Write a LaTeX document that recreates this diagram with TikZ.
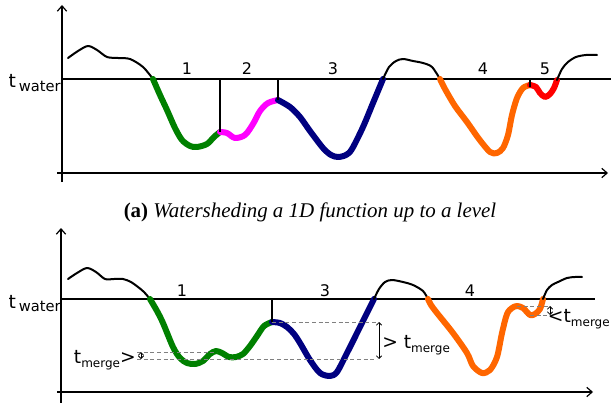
\documentclass[tikz,border=0pt]{standalone}
\usepackage{fontspec}
\setmainfont{Liberation Serif}
\newfontfamily\labfont{DejaVu Sans}
\usetikzlibrary{arrows.meta}
\definecolor{basingreen}{HTML}{008000}
\definecolor{basinpink}{HTML}{FF00FF}
\definecolor{basinblue}{HTML}{000080}
\definecolor{basinorange}{HTML}{FF6600}
\definecolor{basinred}{HTML}{FF0000}
\newcommand{\subw}[1]{\raisebox{-2.5pt}{\fontsize{11}{11}\selectfont #1}}
\newcommand{\subm}[1]{\raisebox{-3pt}{\fontsize{9}{9}\selectfont #1}}

\begin{document}
\begin{tikzpicture}[x=0.75pt, y=-0.75pt,
  axis/.style  = {line width=0.9pt, -{Straight Barb[length=4pt,width=7pt]}},
  level/.style = {line width=1.2pt},
  ridge/.style = {line width=1.2pt},
  land/.style  = {line width=1.5pt, line cap=round, line join=round},
  basin/.style = {line width=4.5pt, line cap=round, line join=round},
  guide/.style = {densely dashed, gray, line width=0.5pt},
  gap/.style   = {line width=0.6pt, {Straight Barb[length=2pt,width=4pt]}-{Straight Barb[length=2pt,width=4pt]}},
  num/.style   = {font=\labfont\fontsize{12}{12}\selectfont, anchor=base, inner sep=0pt},
  tlab/.style  = {font=\labfont\fontsize{14}{14}\selectfont, inner sep=0pt},
]
\useasboundingbox (0,0) rectangle (611,403);
%%--- (a) Watershed up to a level ---
\draw[axis] (62,182) -- (62,5);
\draw[axis] (57,173) -- (608,173);
\coordinate (wa) at (62,79);
\draw[level] (wa) -- (611,79);
\node[tlab, anchor=base east] (twa) at (61,88) {t\,\subw{water}};
\draw[land] plot[smooth] coordinates {(68,58) (78,51) (88,46) (97,50) (107,57) (118,58) (130,59) (143,67) (153,79)};
\draw[basin, basingreen] plot[smooth] coordinates {(153,79) (160,95) (167,110) (175,128) (182,140) (190,146) (197,147) (207,144) (214,137) (220,132)};
\draw[basin, basinpink] plot[smooth] coordinates {(220,132) (227,133) (235,138) (245,135) (253,124) (260,111) (268,103) (278,100)};
\draw[basin, basinblue] plot[smooth] coordinates {(278,100) (290,107) (300,117) (310,131) (323,148) (331,155) (338,157) (346,155) (352,149) (363,127) (373,103) (383,79)};
\draw[land] plot[smooth] coordinates {(383,79) (389,67) (396,61) (403,59) (413,61) (423,63) (432,67) (440,79)};
\draw[basin, basinorange] plot[smooth] coordinates {(440,79) (445,89) (455,106) (467,122) (479,139) (490,152) (497,153) (503,148) (508,135) (512,115) (517,98) (523,88) (530,85)};
\draw[basin, basinred] plot[smooth] coordinates {(530,85) (536,87) (540,93) (545,97) (550,94) (554,88) (557,80)};
\draw[land] plot[smooth] coordinates {(557,80) (562,69) (568,62) (576,57) (586,55) (597,55)};
\coordinate (ra1) at (220,132);
\coordinate (ra2) at (278,100);
\coordinate (ra3) at (530,87);
\draw[ridge] (ra1) -- (ra1 |- wa);
\draw[ridge] (ra2) -- (ra2 |- wa);
\draw[ridge] (ra3) -- (ra3 |- wa);
\node[num] (na1) at (187,75) {1};
\node[num] (na2) at (247,75) {2};
\node[num] (na3) at (333,75) {3};
\node[num] (na4) at (483,75) {4};
\node[num] (na5) at (545,75) {5};
\node[font=\fontsize{15.7}{18}\selectfont, anchor=base, inner sep=0pt] (capa) at (310,217) {\textbf{(a)} \textit{Watersheding a 1D function up to a level}};
%%--- (b) Watershed with merging ---
\draw[axis] (61,403) -- (61,228);
\draw[axis] (57,392) -- (593,392);
\coordinate (wb) at (62,299);
\draw[level] (wb) -- (595,299);
\node[tlab, anchor=base east] (twb) at (61,308) {t\,\subw{water}};
\draw[land] plot[smooth] coordinates {(68,279) (77,273) (87,268) (96,272) (105,279) (114,279) (123,279) (131,282) (138,287) (144,292) (150,299)};
\draw[basin, basingreen] plot[smooth] coordinates {(150,299) (157,311) (163,323) (173,347) (180,358) (187,363) (195,364) (203,361) (210,354) (216,351) (222,353) (229,357) (236,357) (243,354) (250,346) (257,336) (264,326) (272,322)};
\draw[basin, basinblue] plot[smooth] coordinates {(272,322) (280,323) (287,327) (294,334) (300,343) (310,360) (320,373) (330,376) (337,372) (347,353) (360,327) (367,313) (374,299)};
\draw[land] plot[smooth] coordinates {(374,299) (379,289) (385,282) (392,280) (403,282) (413,285) (423,291) (428,299)};
\draw[basin, basinorange] plot[smooth] coordinates {(428,299) (431,305) (437,313) (453,333) (467,353) (473,366) (482,373) (490,370) (497,357) (502,333) (507,314) (512,308) (517,306) (523,308) (530,315) (535,314) (540,309) (543,299)};
\draw[land] plot[smooth] coordinates {(543,299) (547,290) (552,285) (558,282) (567,278) (575,277) (582,277)};
\coordinate (rb1) at (272,322);
\draw[ridge] (rb1) -- (rb1 |- wb);
\node[num] (nb1) at (182,296) {1};
\node[num] (nb3) at (325,296) {3};
\node[num] (nb4) at (470,296) {4};
%% merge thresholds
\draw[guide] (137,352) -- (217,352);
\draw[guide] (137,359) -- (377,359);
\draw[guide] (rb1) -- (377,322);
\draw[guide] (517,306) -- (548,306);
\draw[guide] (530,315) -- (548,315);
\draw[gap] (141,352) -- (141,359);
\draw[gap] (379,322) -- (379,359);
\draw[gap] (550,306) -- (550,315);
\node[tlab, anchor=base east] (tml) at (136,363) {t\subm{merge}>};
\node[tlab, anchor=base west] (tmm) at (382,348) {> t\subm{merge}};
\node[tlab, anchor=base east] (tmr) at (610,322) {<t\subm{merge}};
\end{tikzpicture}
\end{document}
